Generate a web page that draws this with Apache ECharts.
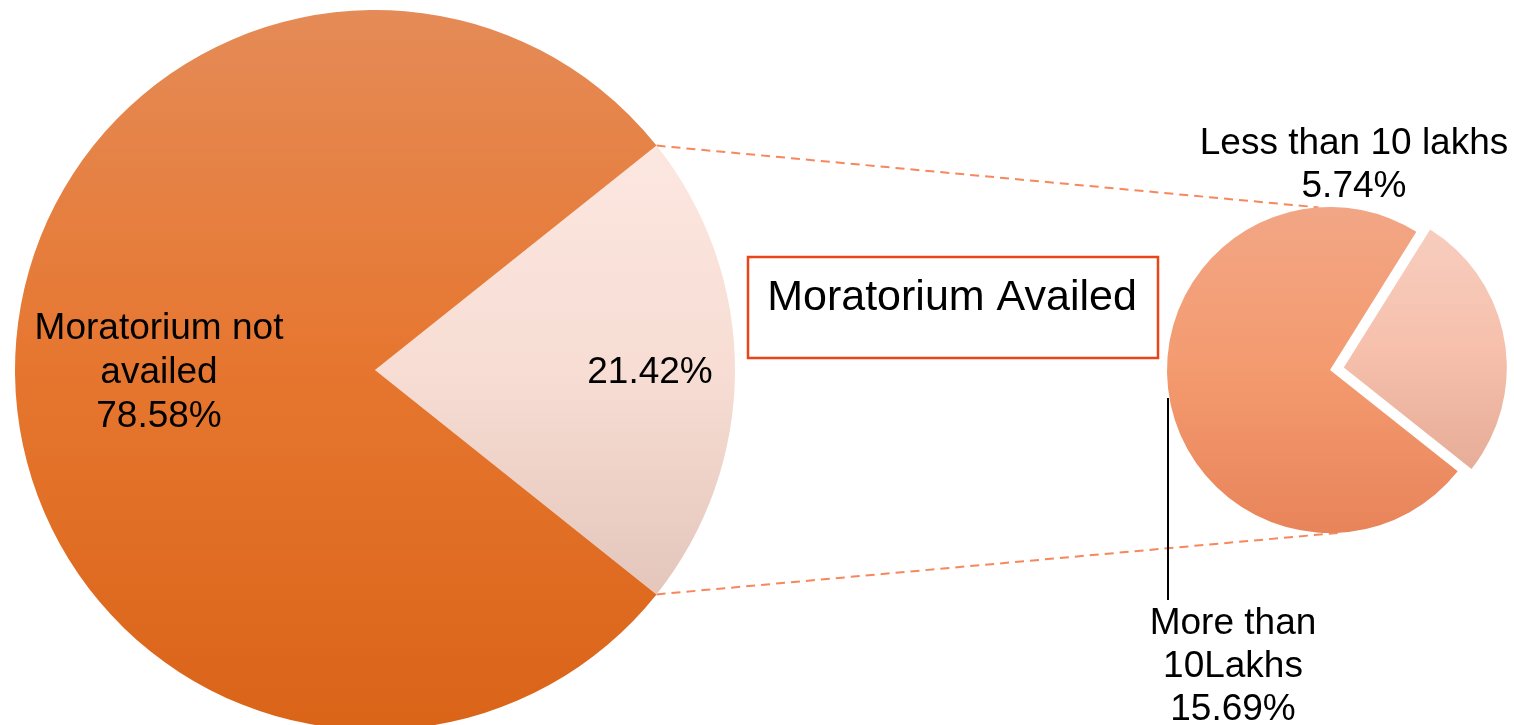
<!DOCTYPE html>
<html>
<head>
<meta charset="utf-8">
<script src="https://cdn.jsdelivr.net/npm/echarts@6/dist/echarts.min.js"></script>
<style>
  html, body { margin: 0; padding: 0; background: #fff; }
  #main { width: 1514px; height: 725px; }
</style>
</head>
<body>
<div id="main"></div>
<script>
  // main pie
  var mainNames = ['Moratorium Availed', 'Moratorium not\navailed'];
  var mainValues = [21.42, 78.58];
  // breakdown of the availed part
  var subNames = ['Less than 10 lakhs', 'More than\n10Lakhs'];
  var subValues = [5.74, 15.69];

  var mainCenter = [375, 370], mainR = 360;
  var subCenter = [1330, 370], subR = 163;
  var font = 'Liberation Sans, Arial, sans-serif';

  function grad(stops) {
    return new echarts.graphic.LinearGradient(0, 0, 0, 1, stops.map(function (c, i) {
      return { offset: i / (stops.length - 1), color: c };
    }));
  }

  var mainTotal = mainValues[0] + mainValues[1];
  var halfAngle = mainValues[0] / mainTotal * 180;  // availed slice centred on the right
  var subTotal = subValues[0] + subValues[1];
  var subStart = 58;
  // exploded slice is pushed out along its middle angle
  var explode = 14;
  var midAngle = (subStart - subValues[0] / subTotal * 180) * Math.PI / 180;
  var lightCenter = [subCenter[0] + explode * Math.cos(midAngle), subCenter[1] - explode * Math.sin(midAngle)];

  var mainData = [
    { name: mainNames[0], value: mainValues[0],
      itemStyle: { color: grad(['#fce7e0', '#f7ddd4', '#e4c6bb']) },
      label: { formatter: '{c}%' } },
    { name: mainNames[1], value: mainValues[1],
      itemStyle: { color: grad(['#e58b57', '#e6762f', '#da6418']) },
      label: { formatter: '{b}\n{c}%' } }
  ];

  var hidden = { itemStyle: { color: 'rgba(0,0,0,0)' }, label: { show: false }, labelLine: { show: false } };

  var subDarkData = [
    Object.assign({ name: subNames[0], value: subValues[0] }, hidden),
    { name: subNames[1], value: subValues[1],
      itemStyle: { color: grad(['#f2a685', '#f49a6f', '#e8845a']) } }
  ];
  var subLightData = [
    { name: subNames[0], value: subValues[0],
      itemStyle: { color: grad(['#f7cdbe', '#f6c0ac', '#e6ad98']) } },
    Object.assign({ name: subNames[1], value: subValues[1] }, hidden)
  ];

  // connector lines from the split edges of the big pie to the small pie
  function pt(c, r, deg) {
    var a = deg * Math.PI / 180;
    return [c[0] + r * Math.cos(a), c[1] - r * Math.sin(a)];
  }
  var a1 = pt(mainCenter, mainR, halfAngle), b1 = pt(subCenter, subR, 94);
  var a2 = pt(mainCenter, mainR, -halfAngle), b2 = pt(subCenter, subR, -86);
  var dashStyle = { stroke: '#f7875d', lineWidth: 2, lineDash: [9, 6] };

  var labelBase = {
    show: true, color: '#000', fontSize: 37, lineHeight: 43,
    fontFamily: font, align: 'center', formatter: '{b}\n{c}%'
  };

  var myChart = echarts.init(document.getElementById('main'), null, { renderer: 'canvas' });
  var option = {
    animation: false,
    backgroundColor: '#ffffff',
    textStyle: { fontFamily: font },
    graphic: [
      { type: 'line', shape: { x1: a1[0], y1: a1[1], x2: b1[0], y2: b1[1] }, style: dashStyle, z: 1 },
      { type: 'line', shape: { x1: a2[0], y1: a2[1], x2: b2[0], y2: b2[1] }, style: dashStyle, z: 1 },
      { type: 'rect', shape: { x: 748, y: 257, width: 410, height: 101 },
        style: { fill: '#fff', stroke: '#ea4519', lineWidth: 2.5 }, z: 5 },
      { type: 'text', x: 952, y: 298, z: 6,
        style: { text: 'Moratorium Availed', fill: '#000', font: '43px ' + font,
                 align: 'center', verticalAlign: 'middle' } }
    ],
    series: [
      {
        type: 'pie',
        center: mainCenter,
        radius: mainR,
        startAngle: halfAngle,
        clockwise: true,
        silent: true,
        z: 3,
        label: {
          show: true, position: 'inside', color: '#000',
          fontSize: 37, lineHeight: 44, fontFamily: font, align: 'center'
        },
        labelLine: { show: false },
        labelLayout: function (p) {
          return { dx: p.dataIndex === 0 ? 92 : -33, dy: 3 };
        },
        emphasis: { disabled: true },
        data: mainData
      },
      {
        // "More than 10Lakhs" part
        type: 'pie',
        center: subCenter,
        radius: subR,
        startAngle: subStart,
        clockwise: true,
        silent: true,
        z: 3,
        label: Object.assign({ position: 'outside', width: 400 }, labelBase),
        labelLine: { show: true, lineStyle: { color: '#000', width: 2 } },
        labelLayout: function (p) {
          return { x: 1233, y: 667, align: 'center', verticalAlign: 'middle',
                   labelLinePoints: [[1168, 398], [1168, 500], [1168, 600]] };
        },
        emphasis: { disabled: true },
        data: subDarkData
      },
      {
        // exploded "Less than 10 lakhs" slice
        type: 'pie',
        center: lightCenter,
        radius: subR,
        startAngle: subStart,
        clockwise: true,
        silent: true,
        z: 3,
        label: Object.assign({ position: 'outside', width: 400 }, labelBase),
        labelLine: { show: false },
        labelLayout: function (p) {
          return { x: 1354, y: 165, align: 'center', verticalAlign: 'middle' };
        },
        emphasis: { disabled: true },
        data: subLightData
      }
    ]
  };
  myChart.setOption(option);
</script>
</body>
</html>
